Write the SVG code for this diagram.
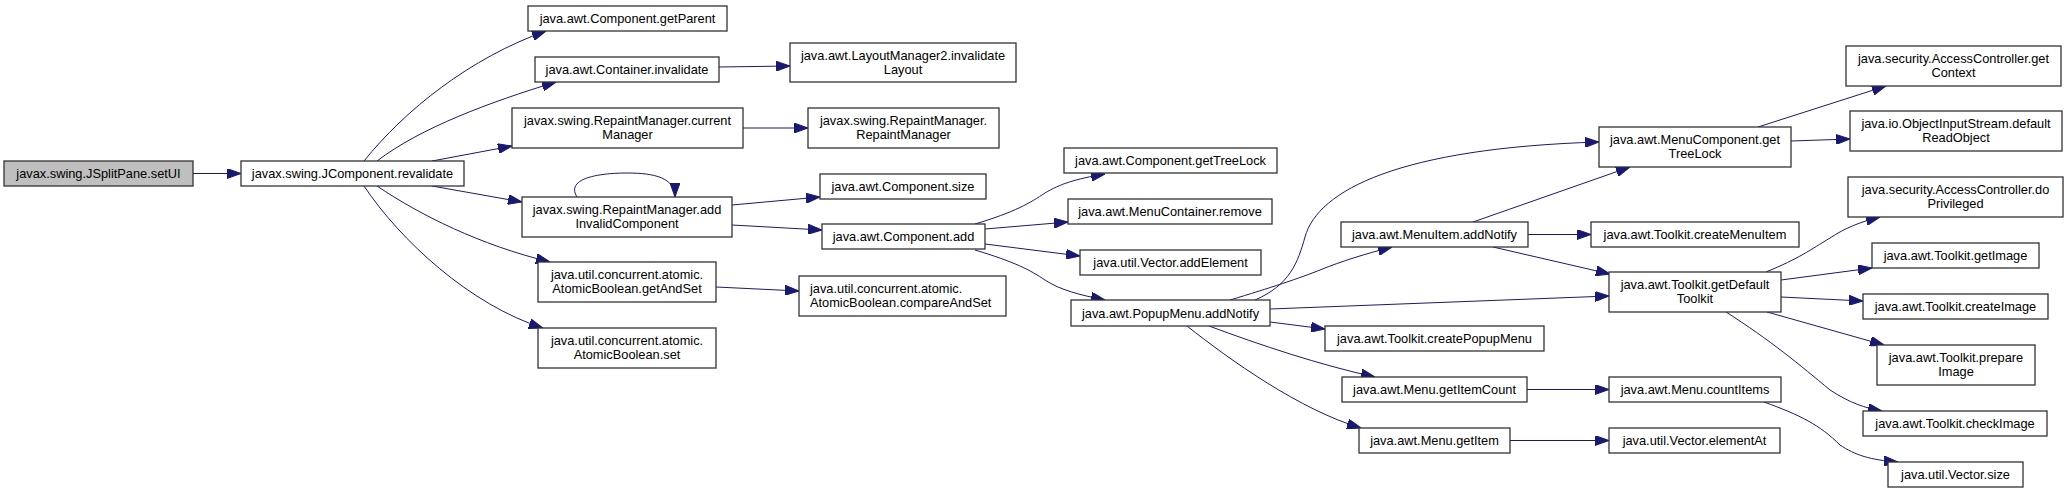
<svg xmlns="http://www.w3.org/2000/svg" width="2071" height="493" viewBox="0 0 2071 493">
<style>
.n rect{fill:#ffffff;stroke:#333333;stroke-width:1.3}
.root rect{fill:#bfbfbf}
text{font-family:"Liberation Sans",Arial,Helvetica,sans-serif;font-size:12.8px;fill:#000000;text-anchor:middle}
text.l{text-anchor:start}
.e path{fill:none;stroke:#191970;stroke-width:1;marker-end:url(#arr)}
</style>
<defs>
<marker id="arr" markerUnits="userSpaceOnUse" markerWidth="14" markerHeight="10" viewBox="0 0 14 10" refX="14" refY="5" orient="auto">
<path d="M0,0 L14,5 L0,10 z" fill="#191970" stroke="#191970" stroke-width="1"/>
</marker>
</defs>
<rect x="0" y="0" width="2071" height="493" fill="#ffffff"/>
<g id="edges" class="e">
<path d="M193,173.5 L241,173.5"/>
<path d="M364,161 C405,110 470,58 546,31"/>
<path d="M377,161 C420,128 490,102 556,82"/>
<path d="M432,161 L512,146"/>
<path d="M432,186 L522,202"/>
<path d="M377,186 C420,215 480,245 550,262"/>
<path d="M364,186 C400,240 470,305 543,328"/>
<path d="M577,197 C565,178 600,173 627,173 C655,173 675,178 675,197"/>
<path d="M719,67 L790,66"/>
<path d="M743,128 L808,128"/>
<path d="M732,205 L820,197"/>
<path d="M732,225 L822,230"/>
<path d="M716,287 L799,291"/>
<path d="M975,224 C1015,212 1030,203 1045,193 C1060,184 1075,179 1105,174"/>
<path d="M985,229 L1068,222"/>
<path d="M985,244 L1080,256"/>
<path d="M975,250 C1015,262 1030,270 1045,280 C1060,290 1080,295 1105,300"/>
<path d="M1255,300 C1290,285 1298,262 1305,237 C1318,190 1400,148 1599,142"/>
<path d="M1230,300 C1270,288 1300,278 1320,270 C1342,261 1365,254 1392,247"/>
<path d="M1270,309 L1609,296"/>
<path d="M1270,322 L1325,329"/>
<path d="M1209,326 C1260,345 1320,365 1375,377"/>
<path d="M1187,326 C1230,360 1300,410 1361,428"/>
<path d="M1473,222 L1630,167"/>
<path d="M1528,234.5 L1591,234.5"/>
<path d="M1493,247 L1610,274"/>
<path d="M1758,127 L1886,86"/>
<path d="M1791,141 L1850,139"/>
<path d="M1766,272 C1800,258 1810,250 1830,238 C1845,228 1860,222 1880,217"/>
<path d="M1781,280 L1872,268"/>
<path d="M1781,297 L1863,301"/>
<path d="M1767,312 L1884,345"/>
<path d="M1726,312 C1770,340 1800,365 1830,390 C1850,403 1865,408 1882,411"/>
<path d="M1527,389.5 L1609,389.5"/>
<path d="M1510,440.5 L1609,440.5"/>
<path d="M1764,402 C1800,415 1820,425 1840,445 C1855,455 1870,460 1898,462"/>
</g>
<g id="n_setUI" class="n root"><rect x="4" y="161" width="189" height="25"/><text x="98.5" y="178">javax.swing.JSplitPane.setUI</text></g>
<g id="n_revalidate" class="n"><rect x="241" y="161" width="223" height="25"/><text x="352.5" y="178">javax.swing.JComponent.revalidate</text></g>
<g id="n_getParent" class="n"><rect x="528" y="6" width="199" height="25"/><text x="627.5" y="23">java.awt.Component.getParent</text></g>
<g id="n_containerInvalidate" class="n"><rect x="535" y="57" width="184" height="25"/><text x="627" y="74">java.awt.Container.invalidate</text></g>
<g id="n_invalidateLayout" class="n"><rect x="790" y="43" width="226" height="39"/><text x="903" y="59.5">java.awt.LayoutManager2.invalidate</text><text x="903" y="74">Layout</text></g>
<g id="n_currentManager" class="n"><rect x="512" y="108" width="231" height="40"/><text x="627.5" y="124.5">javax.swing.RepaintManager.current</text><text x="627.5" y="139">Manager</text></g>
<g id="n_repaintManager" class="n"><rect x="808" y="108" width="191" height="40"/><text x="903.5" y="124.5">javax.swing.RepaintManager.</text><text x="903.5" y="139">RepaintManager</text></g>
<g id="n_addInvalidComponent" class="n"><rect x="522" y="197" width="210" height="40"/><text x="627" y="213.5">javax.swing.RepaintManager.add</text><text x="627" y="228">InvalidComponent</text></g>
<g id="n_componentSize" class="n"><rect x="820" y="174" width="166" height="25"/><text x="903" y="191">java.awt.Component.size</text></g>
<g id="n_componentAdd" class="n"><rect x="822" y="224" width="163" height="25"/><text x="903.5" y="241">java.awt.Component.add</text></g>
<g id="n_getAndSet" class="n"><rect x="538" y="262" width="178" height="40"/><text x="627" y="278.5">java.util.concurrent.atomic.</text><text x="627" y="293">AtomicBoolean.getAndSet</text></g>
<g id="n_compareAndSet" class="n"><rect x="799" y="276" width="207" height="40"/><text class="l" x="810" y="292.5">java.util.concurrent.atomic.</text><text class="l" x="810" y="307">AtomicBoolean.compareAndSet</text></g>
<g id="n_atomicSet" class="n"><rect x="538" y="328" width="178" height="40"/><text x="627" y="344.5">java.util.concurrent.atomic.</text><text x="627" y="359">AtomicBoolean.set</text></g>
<g id="n_componentTreeLock" class="n"><rect x="1064" y="148" width="213" height="25"/><text x="1170.5" y="165">java.awt.Component.getTreeLock</text></g>
<g id="n_menuContainerRemove" class="n"><rect x="1068" y="199" width="204" height="25"/><text x="1170" y="216">java.awt.MenuContainer.remove</text></g>
<g id="n_vectorAddElement" class="n"><rect x="1080" y="250" width="181" height="25"/><text x="1170.5" y="267">java.util.Vector.addElement</text></g>
<g id="n_popupAddNotify" class="n"><rect x="1071" y="300" width="199" height="26"/><text x="1170.5" y="318">java.awt.PopupMenu.addNotify</text></g>
<g id="n_menuItemAddNotify" class="n"><rect x="1341" y="222" width="187" height="25"/><text x="1434.5" y="239">java.awt.MenuItem.addNotify</text></g>
<g id="n_createPopupMenu" class="n"><rect x="1325" y="326" width="219" height="25"/><text x="1434.5" y="343">java.awt.Toolkit.createPopupMenu</text></g>
<g id="n_getItemCount" class="n"><rect x="1342" y="377" width="185" height="25"/><text x="1434.5" y="394">java.awt.Menu.getItemCount</text></g>
<g id="n_getItem" class="n"><rect x="1359" y="428" width="151" height="25"/><text x="1434.5" y="445">java.awt.Menu.getItem</text></g>
<g id="n_menuComponentTreeLock" class="n"><rect x="1599" y="127" width="192" height="40"/><text x="1695" y="143.5">java.awt.MenuComponent.get</text><text x="1695" y="158">TreeLock</text></g>
<g id="n_createMenuItem" class="n"><rect x="1591" y="222" width="208" height="25"/><text x="1695" y="239">java.awt.Toolkit.createMenuItem</text></g>
<g id="n_getDefaultToolkit" class="n"><rect x="1609" y="272" width="172" height="40"/><text x="1695" y="288.5">java.awt.Toolkit.getDefault</text><text x="1695" y="303">Toolkit</text></g>
<g id="n_countItems" class="n"><rect x="1609" y="377" width="172" height="25"/><text x="1695" y="394">java.awt.Menu.countItems</text></g>
<g id="n_elementAt" class="n"><rect x="1609" y="428" width="171" height="25"/><text x="1694.5" y="445">java.util.Vector.elementAt</text></g>
<g id="n_getContext" class="n"><rect x="1846" y="46" width="215" height="40"/><text x="1953.5" y="62.5">java.security.AccessController.get</text><text x="1953.5" y="77">Context</text></g>
<g id="n_defaultReadObject" class="n"><rect x="1850" y="111" width="212" height="40"/><text x="1956" y="127.5">java.io.ObjectInputStream.default</text><text x="1956" y="142">ReadObject</text></g>
<g id="n_doPrivileged" class="n"><rect x="1848" y="177" width="215" height="40"/><text x="1955.5" y="193.5">java.security.AccessController.do</text><text x="1955.5" y="208">Privileged</text></g>
<g id="n_getImage" class="n"><rect x="1872" y="243" width="167" height="25"/><text x="1955.5" y="260">java.awt.Toolkit.getImage</text></g>
<g id="n_createImage" class="n"><rect x="1863" y="294" width="185" height="25"/><text x="1955.5" y="311">java.awt.Toolkit.createImage</text></g>
<g id="n_prepareImage" class="n"><rect x="1877" y="345" width="158" height="40"/><text x="1956" y="361.5">java.awt.Toolkit.prepare</text><text x="1956" y="376">Image</text></g>
<g id="n_checkImage" class="n"><rect x="1863" y="411" width="184" height="25"/><text x="1955" y="428">java.awt.Toolkit.checkImage</text></g>
<g id="n_vectorSize" class="n"><rect x="1888" y="462" width="135" height="25"/><text x="1955.5" y="479">java.util.Vector.size</text></g>
</svg>
